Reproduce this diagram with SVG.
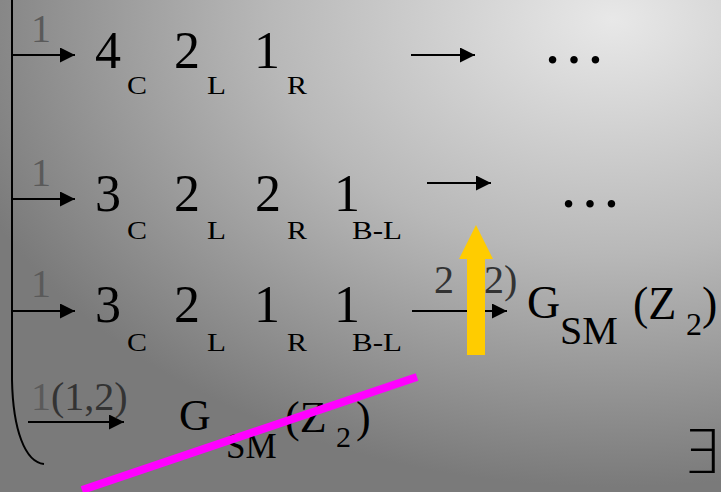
<svg xmlns="http://www.w3.org/2000/svg" width="721" height="492" viewBox="0 0 721 492" font-family="Liberation Serif, Times New Roman, serif">
<style>
.t{font-family:"Liberation Serif","Times New Roman",serif;fill:#000}
.big{font-size:52px}
.sub{font-size:26px}
.lab{font-size:40px;fill:#5a5a5a}
.lab2{font-size:40px;fill:#333}
.dots{font-size:64px}
.conn{stroke:#000;stroke-width:2;fill:none}
</style>
<defs>
<radialGradient id="bg" cx="0.85" cy="0.04" r="0.95">
<stop offset="0" stop-color="#e8e8e8"/>
<stop offset="0.5" stop-color="#b8b8b8"/>
<stop offset="1" stop-color="#7a7a7a"/>
</radialGradient>
<marker id="ah" markerWidth="15" markerHeight="15" refX="15" refY="7.5" orient="auto" markerUnits="userSpaceOnUse">
<path d="M0,0 L15,7.5 L0,15 Z" fill="#000"/>
</marker>
</defs>
<rect x="0" y="0" width="721" height="492" fill="url(#bg)"/>

<g id="connectors">
<path class="conn" d="M12,0 L12,380 C13,430 25,462 44,464"/>
<line class="conn" x1="12" y1="55" x2="75" y2="55" marker-end="url(#ah)"/>
<line class="conn" x1="411" y1="55" x2="475" y2="55" marker-end="url(#ah)"/>
<line class="conn" x1="12" y1="199" x2="75" y2="199" marker-end="url(#ah)"/>
<line class="conn" x1="427" y1="183" x2="491" y2="183" marker-end="url(#ah)"/>
<line class="conn" x1="12" y1="311" x2="75" y2="311" marker-end="url(#ah)"/>
<line class="conn" x1="412" y1="311" x2="507" y2="311" marker-end="url(#ah)"/>
<line class="conn" x1="28" y1="422" x2="124" y2="422" marker-end="url(#ah)"/>
</g>

<g id="row1">
<text class="t lab" x="31" y="42">1</text>
<text class="t big" x="95" y="68">4</text>
<text class="t sub" x="127" y="94" textLength="20" lengthAdjust="spacingAndGlyphs">C</text>
<text class="t big" x="174" y="68">2</text>
<text class="t sub" x="207" y="94" textLength="19" lengthAdjust="spacingAndGlyphs">L</text>
<text class="t big" x="254" y="68">1</text>
<text class="t sub" x="287" y="94" textLength="20" lengthAdjust="spacingAndGlyphs">R</text>
<text class="t dots" x="542" y="63">…</text>
</g>

<g id="row2">
<text class="t lab" x="31" y="186">1</text>
<text class="t big" x="95" y="211">3</text>
<text class="t sub" x="127" y="239" textLength="20" lengthAdjust="spacingAndGlyphs">C</text>
<text class="t big" x="174" y="211">2</text>
<text class="t sub" x="207" y="239" textLength="19" lengthAdjust="spacingAndGlyphs">L</text>
<text class="t big" x="255" y="211">2</text>
<text class="t sub" x="287" y="239" textLength="20" lengthAdjust="spacingAndGlyphs">R</text>
<text class="t big" x="334" y="211">1</text>
<text class="t sub" x="352" y="239" textLength="50" lengthAdjust="spacingAndGlyphs">B-L</text>
<text class="t dots" x="558" y="207">…</text>
</g>

<g id="row3">
<text class="t lab" x="31" y="297">1</text>
<text class="t big" x="95" y="322">3</text>
<text class="t sub" x="127" y="351" textLength="20" lengthAdjust="spacingAndGlyphs">C</text>
<text class="t big" x="174" y="322">2</text>
<text class="t sub" x="207" y="351" textLength="19" lengthAdjust="spacingAndGlyphs">L</text>
<text class="t big" x="254" y="322">1</text>
<text class="t sub" x="287" y="351" textLength="20" lengthAdjust="spacingAndGlyphs">R</text>
<text class="t big" x="334" y="322">1</text>
<text class="t sub" x="352" y="351" textLength="50" lengthAdjust="spacingAndGlyphs">B-L</text>
<text class="t lab2" x="434" y="293">2</text>
<text class="t lab2" x="484" y="293">2)</text>
<text class="t" x="527" y="318" font-size="46">G</text>
<text class="t" x="560" y="344" font-size="40">SM</text>
<text class="t" x="633" y="319" font-size="46">(Z</text>
<text class="t" x="686" y="335" font-size="32">2</text>
<text class="t" x="702" y="319" font-size="46">)</text>
</g>

<g id="row4">
<text class="t lab" x="31" y="410">1</text>
<text class="t lab2" x="51" y="410">(1,2)</text>
<text class="t" x="179" y="430" font-size="44">G</text>
<text class="t" x="226" y="458" font-size="35">SM</text>
<text class="t" x="285" y="432" font-size="44">(Z</text>
<text class="t" x="336" y="447" font-size="30">2</text>
<text class="t" x="356" y="432" font-size="44">)</text>
</g>

<g id="exists">
<text x="682" y="473" font-family="DejaVu Sans, sans-serif" font-size="60" font-weight="200">∃</text>
</g>

<g id="yellow-arrow">
<polygon points="467,355 485,355 485,259 493,259 476,225 459,259 467,259" fill="#ffcc00"/>
</g>

<g id="strike">
<line x1="82" y1="490" x2="417" y2="377" stroke="#ff00ff" stroke-width="8"/>
</g>
</svg>
